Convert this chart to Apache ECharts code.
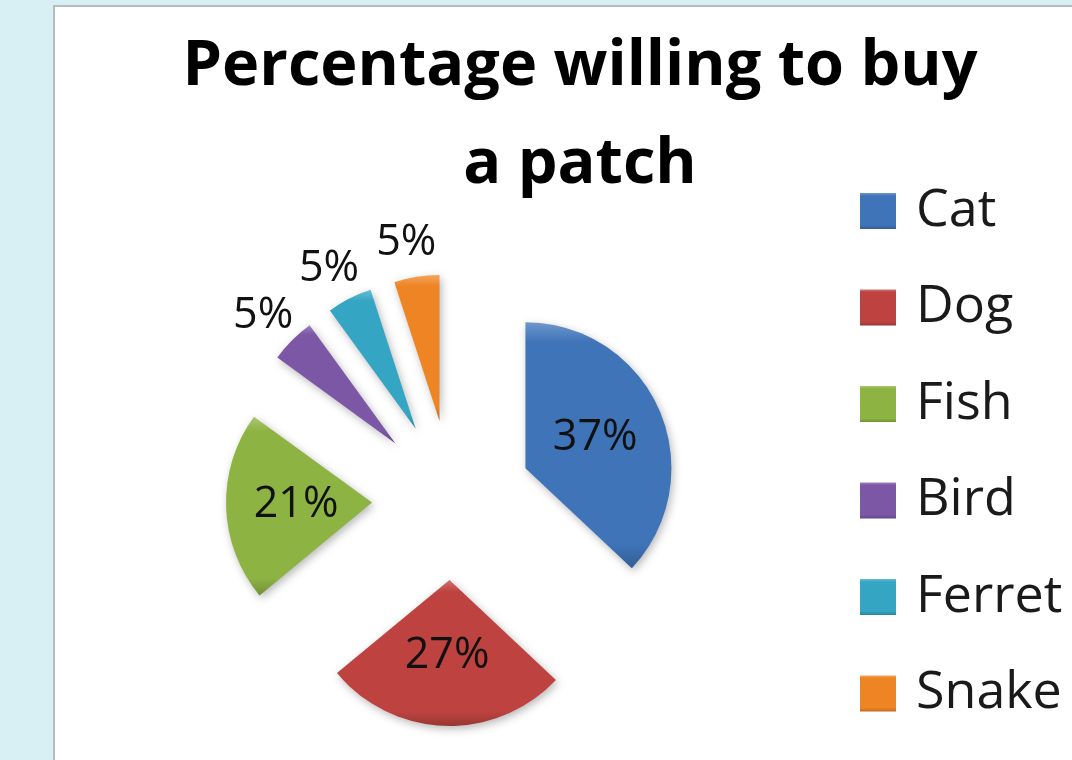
<!DOCTYPE html>
<html>
<head>
<meta charset="utf-8">
<title>Percentage willing to buy a patch</title>
<script src="https://cdn.jsdelivr.net/npm/echarts@6/dist/echarts.min.js"></script>
<style>
    html, body { margin: 0; padding: 0; width: 1072px; height: 760px; overflow: hidden; background: #d8eff3; }
    #panel {
        position: absolute; left: 53px; top: 5px; width: 1030px; height: 770px;
        background: #ffffff; border: 2px solid #b9bcbe; box-sizing: border-box;
    }
    #chart { position: absolute; left: 0; top: 0; width: 1072px; height: 760px; }
</style>
</head>
<body>
<div id="panel"></div>
<div id="chart"></div>
<script>
// Data
const categories = ['Cat', 'Dog', 'Fish', 'Bird', 'Ferret', 'Snake'];
const percents = [37, 27, 21, 5, 5, 5];
const sliceColors = ['#3f74b9', '#be4340', '#8db443', '#7b57a6', '#35a5c4', '#ef8424'];
// small slices get their label outside, like in Excel
const outsideLabels = ['Bird', 'Ferret', 'Snake'];

const FONT = "'Open Sans', 'Noto Sans', sans-serif";

/**
 * Shift a hex colour lighter (amt > 0) or darker (amt < 0)
 */
function shade(hex, amt) {
    const n = parseInt(hex.slice(1), 16);
    const ch = [(n >> 16) & 255, (n >> 8) & 255, n & 255].map(c => {
        const v = amt > 0 ? c + (255 - c) * amt : c * (1 + amt);
        return Math.max(0, Math.min(255, Math.round(v)));
    });
    return 'rgb(' + ch.join(',') + ')';
}

// bevel-ish fill, lighter on top, darker at the bottom
function bevel(hex) {
    return new echarts.graphic.LinearGradient(0, 0, 0, 1, [
        { offset: 0, color: shade(hex, 0.25) },
        { offset: 0.08, color: hex },
        { offset: 0.9, color: hex },
        { offset: 1, color: shade(hex, -0.2) }
    ]);
}

const pieData = categories.map((name, i) => {
    const item = {
        name: name,
        value: percents[i],
        selected: true,
        itemStyle: { color: bevel(sliceColors[i]) }
    };
    if (outsideLabels.includes(name)) {
        item.label = { position: 'outside', distance: 0 };
    }
    return item;
});

const chart = echarts.init(document.getElementById('chart'), null, { renderer: 'canvas' });

chart.setOption({
    backgroundColor: 'transparent',
    animation: false,
    textStyle: { fontFamily: FONT },
    title: {
        text: 'Percentage willing to buy\na patch',
        left: 580,
        top: 18,
        padding: 0,
        textAlign: 'center',
        textStyle: {
            fontFamily: FONT,
            fontSize: 63,
            fontWeight: 'bold',
            color: '#000000',
            lineHeight: 98
        }
    },
    legend: {
        orient: 'vertical',
        left: 860,
        top: 185,
        padding: 0,
        itemWidth: 36,
        itemHeight: 36,
        itemGap: 44.5,
        icon: 'rect',
        data: categories,
        selectedMode: false,
        textStyle: {
            fontFamily: FONT,
            fontSize: 52,
            color: '#1a1a1a',
            padding: [0, 0, 0, 15]
        }
    },
    series: [{
        type: 'pie',
        center: [452, 500],
        radius: 146,
        startAngle: 90,
        clockwise: true,
        selectedMode: 'multiple',
        selectedOffset: 80,
        avoidLabelOverlap: false,
        data: pieData,
        itemStyle: {
            shadowBlur: 8,
            shadowColor: 'rgba(0,0,0,0.28)',
            shadowOffsetX: 2,
            shadowOffsetY: 3
        },
        label: {
            show: true,
            position: 'inside',
            formatter: '{c}%',
            fontFamily: FONT,
            fontSize: 43,
            color: '#111111'
        },
        labelLine: { show: false, length: 34, length2: 0 },
        labelLayout: { align: 'center', hideOverlap: false },
        emphasis: { disabled: true },
        select: { itemStyle: {} }
    }]
});
</script>
</body>
</html>
